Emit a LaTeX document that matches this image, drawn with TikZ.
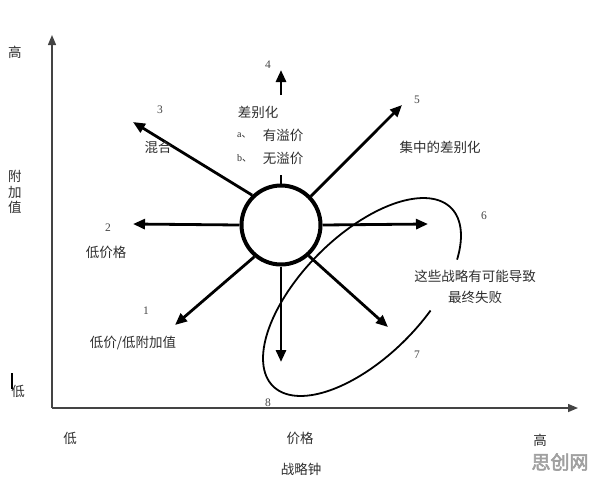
\documentclass[tikz,border=0pt]{standalone}
\usepackage{fontspec}
\setmainfont{Liberation Serif}
\newfontfamily\cjk{Noto Sans CJK SC}
\newfontfamily\cjkwm[FakeBold=3]{Noto Sans CJK SC}
\usetikzlibrary{arrows.meta}
\definecolor{txt}{HTML}{2E2E2E}
\definecolor{numc}{HTML}{444444}
\definecolor{axisc}{HTML}{444444}
\definecolor{wmc}{HTML}{A0A0A0}
\tikzset{
  lbl/.style={font=\cjk\fontsize{13.5}{16}\selectfont, text=txt, inner sep=0pt},
  num/.style={font=\fontsize{11.5}{13}\selectfont, text=numc, inner sep=0pt},
  small/.style={font=\fontsize{10}{12}\selectfont, text=txt, inner sep=0pt},
  ray/.style={line width=2.8pt, -{Triangle[length=12pt,width=10pt]}},
  stub/.style={line width=2.8pt},
  axisline/.style={draw=axisc, line width=1.4pt, -{Triangle[length=10pt,width=8pt]}},
  hub/.style={circle, draw, line width=4pt, minimum size=79pt, inner sep=0pt},
  loopline/.style={line width=1.8pt},
}
\begin{document}
\begin{tikzpicture}[x=1pt,y=-1pt]
\useasboundingbox (0,0) rectangle (596,483);
% axes
\coordinate (O) at (52,408);
\coordinate (ytop) at (52,35);
\coordinate (xend) at (578,408);
\draw[axisline] (O) -- (ytop);
\draw[axisline] (O) -- (xend);
% hub
\node[hub] (c) at (281,225) {};
% tips
\coordinate (t1) at (175,325);
\coordinate (t2) at (133,224);
\coordinate (t3) at (133,122);
\coordinate (t4) at (281,70);
\coordinate (s4a) at (281,95);
\coordinate (s4) at (281,175);
\coordinate (t5) at (402,105);
\coordinate (t6) at (428,224);
\coordinate (t7) at (388,327);
\coordinate (t8) at (281,362);
\draw[ray] (c.230) -- (t1);
\draw[ray] (c.west) -- (t2);
\draw[ray] (c.134) -- (t3);
\draw[stub] (c.north) -- (s4);
\draw[ray] (s4a) -- (t4);
\draw[ray] (c.44) -- (t5);
\draw[ray] (c.east) -- (t6);
\draw[ray] (c.312) -- (t7);
\draw[ray] (c.south) -- (t8);
% open loop
\draw[loopline] plot[domain=72:402, samples=120, smooth]
  ({362+126*cos(\x)*0.7071+61*sin(\x)*0.7071},
   {297-126*cos(\x)*0.7071+61*sin(\x)*0.7071});
% axis labels
\node[lbl] (hiy) at (15,52) {高};
\node[lbl, align=center, font=\cjk\fontsize{13.5}{15.5}\selectfont] (yval) at (15,192) {附\\加\\值};
\coordinate (bar1) at (12,373);
\coordinate (bar2) at (12,389);
\draw[line width=1.2pt] (bar1) -- (bar2);
\node[lbl] (loy) at (18,391) {低};
\node[lbl] (lox) at (70,438) {低};
\node[lbl] (price) at (300,438) {价格};
\node[lbl] (hix) at (540,440) {高};
\node[lbl] (title) at (301,469) {战略钟};
% numbers and strategy labels
\node[num] (n4) at (268,65) {4};
\node[lbl] (diff) at (258,112) {差别化};
\node[small, anchor=west] (ia) at (237,135) {a{\cjk 、}};
\node[lbl] (ya) at (283,135) {有溢价};
\node[small, anchor=west] (ib) at (237,158) {b{\cjk 、}};
\node[lbl] (yb) at (283,158) {无溢价};
\node[num] (n3) at (160,110) {3};
\node[lbl] (mix) at (158,147) {混合};
\node[num] (n5) at (417,100) {5};
\node[lbl] (focus) at (440,147) {集中的差别化};
\node[num] (n2) at (108,228) {2};
\node[lbl] (lowp) at (106,252) {低价格};
\node[num] (n6) at (484,216) {6};
\node[lbl, align=center, font=\cjk\fontsize{13.5}{21}\selectfont] (risk) at (475,286.5) {这些战略有可能导致\\最终失败};
\node[num] (n7) at (417,355) {7};
\node[num] (n1) at (146,311) {1};
\node[lbl] (lowall) at (133,343) {低价/低附加值};
\node[num] (n8) at (268,403) {8};
% watermark
\node[font=\cjkwm\fontsize{19}{21}\selectfont, text=wmc, inner sep=0pt] (wm) at (560,462) {思创网};
\end{tikzpicture}
\end{document}
